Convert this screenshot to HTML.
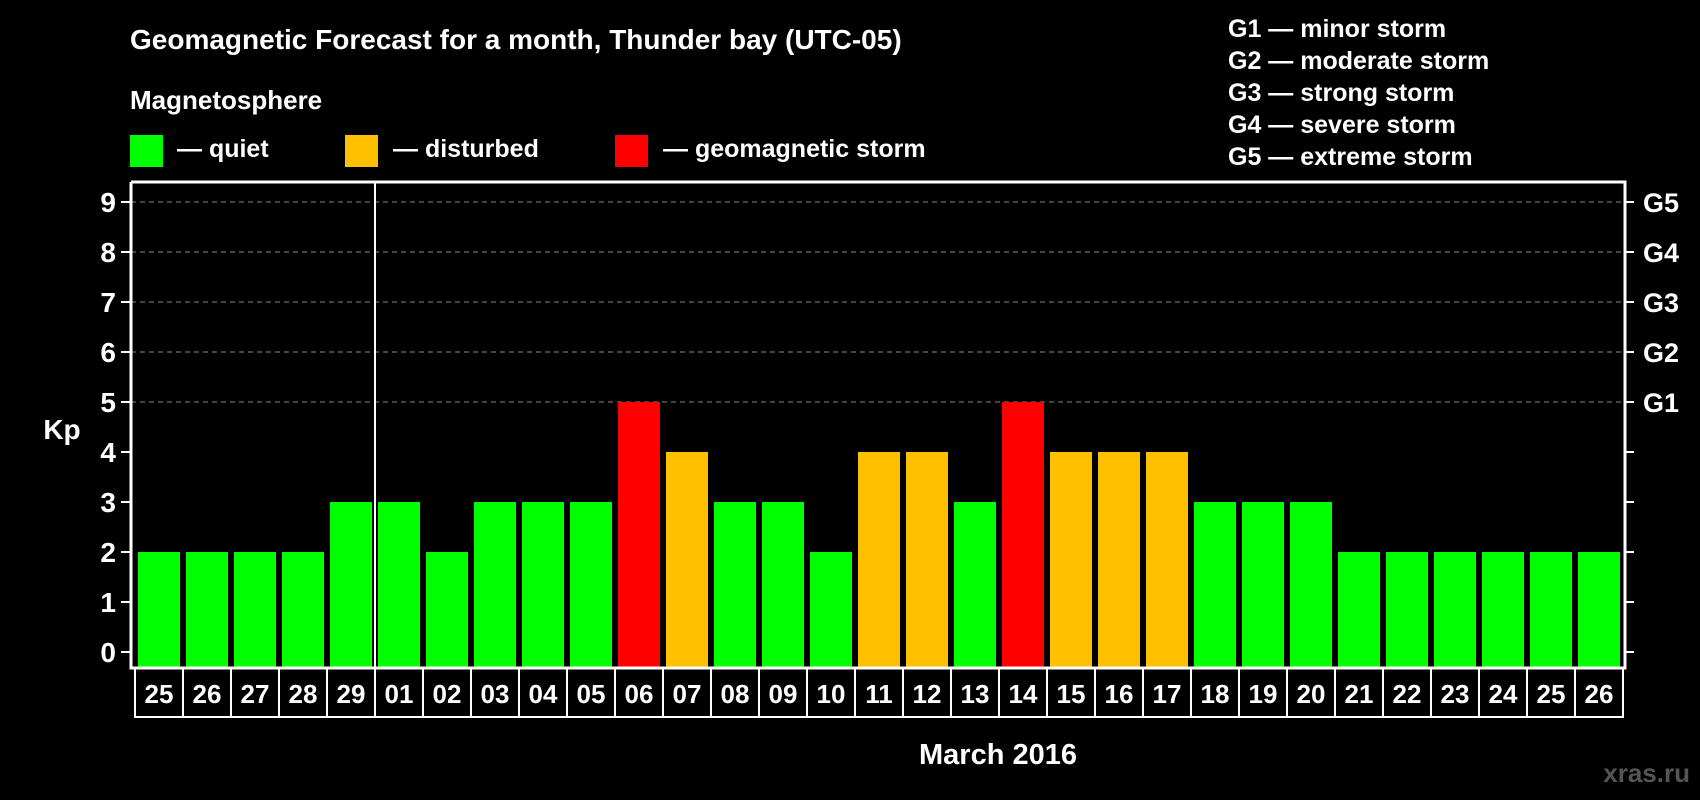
<!DOCTYPE html>
<html><head><meta charset="utf-8"><style>
html,body{margin:0;padding:0;background:#000}
svg{display:block;font-family:"Liberation Sans",Arial,sans-serif;font-weight:bold}
</style></head><body>
<svg id="c" width="1700" height="800" viewBox="0 0 1700 800">
<rect width="1700" height="800" fill="#000"/>
<text x="130" y="49" fill="#fff" font-size="28">Geomagnetic Forecast for a month, Thunder bay (UTC-05)</text>
<text x="130" y="109" fill="#fff" font-size="26">Magnetosphere</text>
<g>
<rect x="130" y="135" width="33" height="32" fill="#00ff00"/><text x="177" y="157" fill="#fff" font-size="25">— quiet</text></g>
<g>
<rect x="345" y="135" width="33" height="32" fill="#ffc000"/><text x="393" y="157" fill="#fff" font-size="25">— disturbed</text></g>
<g>
<rect x="615" y="135" width="33" height="32" fill="#ff0000"/><text x="663" y="157" fill="#fff" font-size="25">— geomagnetic storm</text></g>
<g fill="#fff" font-size="25">
<text x="1228" y="37">G1 — minor storm</text>
<text x="1228" y="69">G2 — moderate storm</text>
<text x="1228" y="101">G3 — strong storm</text>
<text x="1228" y="133">G4 — severe storm</text>
<text x="1228" y="165">G5 — extreme storm</text>
</g>
<text x="62" y="439" fill="#fff" font-size="28" text-anchor="middle">Kp</text>
<text x="998" y="764" fill="#fff" font-size="29" text-anchor="middle">March 2016</text>
<text x="1690" y="782" fill="#555" font-size="26" text-anchor="end">xras.ru</text>
<g id="plot"></g>
</svg>
<script>
const days = ["25","26","27","28","29","01","02","03","04","05","06","07","08","09","10","11","12","13","14","15","16","17","18","19","20","21","22","23","24","25","26"];
const kp = [2,2,2,2,3,3,2,3,3,3,5,4,3,3,2,4,4,3,5,4,4,4,3,3,3,2,2,2,2,2,2];
const yTicks = ["0","1","2","3","4","5","6","7","8","9"];
const gLabels = ["G1","G2","G3","G4","G5"];
const monthStartIndex = 5;

const NS = "http://www.w3.org/2000/svg";
const plot = document.getElementById("plot");
const L = 131, R = 1625, T = 182, B = 668, Y0 = 652, UNIT = 50, PITCH = 48, X0 = 138, BW = 42;
const y = v => Y0 - v * UNIT;
const x = i => X0 + i * PITCH;
function mk(tag, attrs, parent) {
  const e = document.createElementNS(NS, tag);
  for (const k in attrs) e.setAttribute(k, attrs[k]);
  (parent || plot).appendChild(e);
  return e;
}
// gridlines for G levels
gLabels.forEach((g, j) => {
  const v = 5 + j;
  const ln = mk("line", {x1: L, x2: R, y1: y(v), y2: y(v), stroke: "#888", "stroke-width": 1, "stroke-dasharray": "5 4"});
  
  
  const t = mk("text", {x: 1643, y: y(v) + 10, fill: "#fff", "font-size": 27});
  t.textContent = g;
  
  
});
// bars
kp.forEach((v, i) => {
  const col = v >= 5 ? "#ff0000" : v >= 4 ? "#ffc000" : "#00ff00";
  const b = mk("rect", {x: x(i), y: y(v), width: BW, height: B - y(v), fill: col});
  
  
});
// y ticks
yTicks.forEach((t, v) => {
  mk("line", {x1: 121, x2: L, y1: y(v), y2: y(v), stroke: "#fff", "stroke-width": 2});
  mk("line", {x1: R, x2: 1634, y1: y(v), y2: y(v), stroke: "#fff", "stroke-width": 2});
  const tx = mk("text", {x: 116, y: y(v) + 10, fill: "#fff", "font-size": 28, "text-anchor": "end"});
  tx.textContent = t;
  
  
});
// axes border
const ax = mk("polyline", {points: `${L},${T} ${L},${B} ${R},${B} ${R},${T} ${L},${T}`, fill: "none", stroke: "#fff", "stroke-width": 3});


// month divider
const md = x(monthStartIndex) - 3;
const dv = mk("line", {x1: md, x2: md, y1: T, y2: B, stroke: "#fff", "stroke-width": 2});


// date cells
days.forEach((d, i) => {
  const cx = x(i) - 3;
  const r = mk("rect", {x: cx, y: B, width: PITCH, height: 49, fill: "none", stroke: "#fff", "stroke-width": 2});
  
  
  const t = mk("text", {x: cx + PITCH / 2, y: B + 35, fill: "#fff", "font-size": 26, "text-anchor": "middle"});
  t.textContent = d;
  
  
});
</script>
</body></html>
